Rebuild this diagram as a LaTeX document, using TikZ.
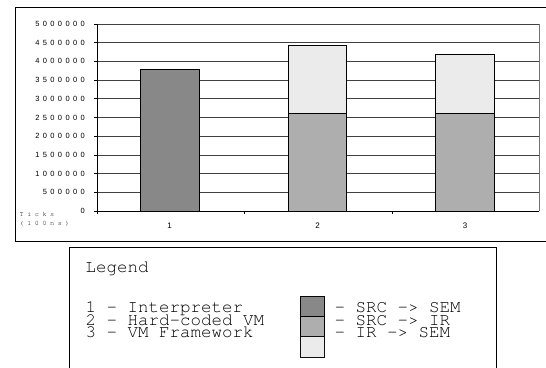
\documentclass[tikz,border=0pt]{standalone}
\usepackage{fontspec}
\usetikzlibrary{patterns.meta}
\setmainfont{Liberation Sans}
\newfontfamily\legendfont{texgyrecursor-regular.otf}
\newfontfamily\axisfont[LetterSpace=45]{Liberation Sans}
\newfontfamily\unitfont[LetterSpace=52]{texgyrecursor-regular.otf}
\definecolor{barA}{HTML}{8C8C8C}
\definecolor{barB}{HTML}{AEAEAE}
\definecolor{barC}{HTML}{F0F0F0}
\tikzset{
  grid line/.style={black!75, line width=0.7pt},
  bar/.style={draw=black, line width=0.9pt},
  fillA/.style={fill=barA, postaction={pattern={Dots[distance=2pt, radius=0.45pt]}, pattern color=black!62}},
  fillB/.style={fill=barB},
  fillC/.style={fill=barC, postaction={pattern={Dots[distance=2pt, radius=0.45pt]}, pattern color=black!28}},
  ylab/.style={anchor=east, inner sep=0pt, font=\axisfont\fontsize{7.5}{8}\selectfont},
  xlab/.style={anchor=center, inner sep=0pt, font=\fontsize{8}{9}\selectfont},
  legtext/.style={anchor=base west, inner sep=0pt, font=\legendfont\fontsize{17.5}{18}\selectfont},
  unittext/.style={anchor=west, inner sep=0pt, text=black, font=\unitfont\fontsize{6.8}{7}\selectfont},
  swatch/.style={draw=black, line width=1pt},
  frame/.style={draw=black, line width=1pt},
}
\begin{document}
\begin{tikzpicture}[x=1pt,y=-1pt]
\useasboundingbox (0,0) rectangle (546,367);
\clip (0,0) rectangle (546,367);
% outer chart frame
\draw[frame] (15,7.3) rectangle (560,241.7);
% grid lines and y labels
\foreach \i in {1,...,10}{
  \pgfmathsetmacro{\yy}{211-18.7*\i}
  \draw[grid line] (97,\yy) -- (539,\yy);
}
\foreach \i/\lab in {0/0,1/500000,2/1000000,3/1500000,4/2000000,5/2500000,6/3000000,7/3500000,8/4000000,9/4500000,10/5000000}{
  \pgfmathsetmacro{\yy}{211-18.7*\i}
  \draw[black, line width=0.8pt] (93.5,\yy) -- (97,\yy);
  \node[ylab] (y\i) at (85,\yy) {\lab};
}
% right plot boundary
\draw[black!55, line width=0.8pt] (539,24) -- (539,211);
% bars
\path[fillA] (140,69.6) rectangle (199.5,211);
\draw[bar] (140,211) -- (140,69.6) -- (199.5,69.6) -- (199.5,211);
\path[fillB] (288.3,113.8) rectangle (346.7,211);
\path[fillC] (288.3,45.7) rectangle (346.7,113.8);
\draw[bar] (288.3,211) -- (288.3,45.7) -- (346.7,45.7) -- (346.7,211);
\draw[bar] (288.3,113.8) -- (346.7,113.8);
\path[fillB] (435.3,113.8) rectangle (494.3,211);
\path[fillC] (435.3,54) rectangle (494.3,113.8);
\draw[bar] (435.3,211) -- (435.3,54) -- (494.3,54) -- (494.3,211);
\draw[bar] (435.3,113.8) -- (494.3,113.8);
% axes
\draw[black, line width=1pt] (97,24) -- (97,211);
\draw[black, line width=1pt] (97,211) -- (539,211);
\foreach \xx in {97,244.5,392}{
  \draw[black, line width=0.8pt] (\xx,211) -- (\xx,214);
}
% category labels
\node[xlab] (c1) at (169.5,225.5) {1};
\node[xlab] (c2) at (317.5,225.5) {2};
\node[xlab] (c3) at (465,225.5) {3};
% unit label
\node[unittext] (ticks) at (19.5,214) {Ticks};
\node[unittext] (unit) at (19.5,224.3) {(100ns)};
% legend box
\draw[frame] (69.3,372) -- (69.3,247.3) -- (496.7,247.3) -- (496.7,372);
\node[legtext] (leg) at (85.5,272.3) {Legend};
\node[legtext] (l1) at (85.5,312.7) {1 – Interpreter};
\node[legtext] (l2) at (85.5,325.3) {2 – Hard-coded VM};
\node[legtext] (l3) at (85.5,337.3) {3 – VM Framework};
\draw[swatch, fillA] (300,296) rectangle (324.3,316.7);
\draw[swatch, fillB] (300,316.7) rectangle (324.3,336.7);
\draw[swatch, fillC] (300,336.7) rectangle (324.3,357.3);
\node[legtext] (r1) at (334.5,312.7) {– SRC -> SEM};
\node[legtext] (r2) at (334.5,325.3) {– SRC -> IR};
\node[legtext] (r3) at (334.5,337.3) {– IR -> SEM};
\end{tikzpicture}
\end{document}
